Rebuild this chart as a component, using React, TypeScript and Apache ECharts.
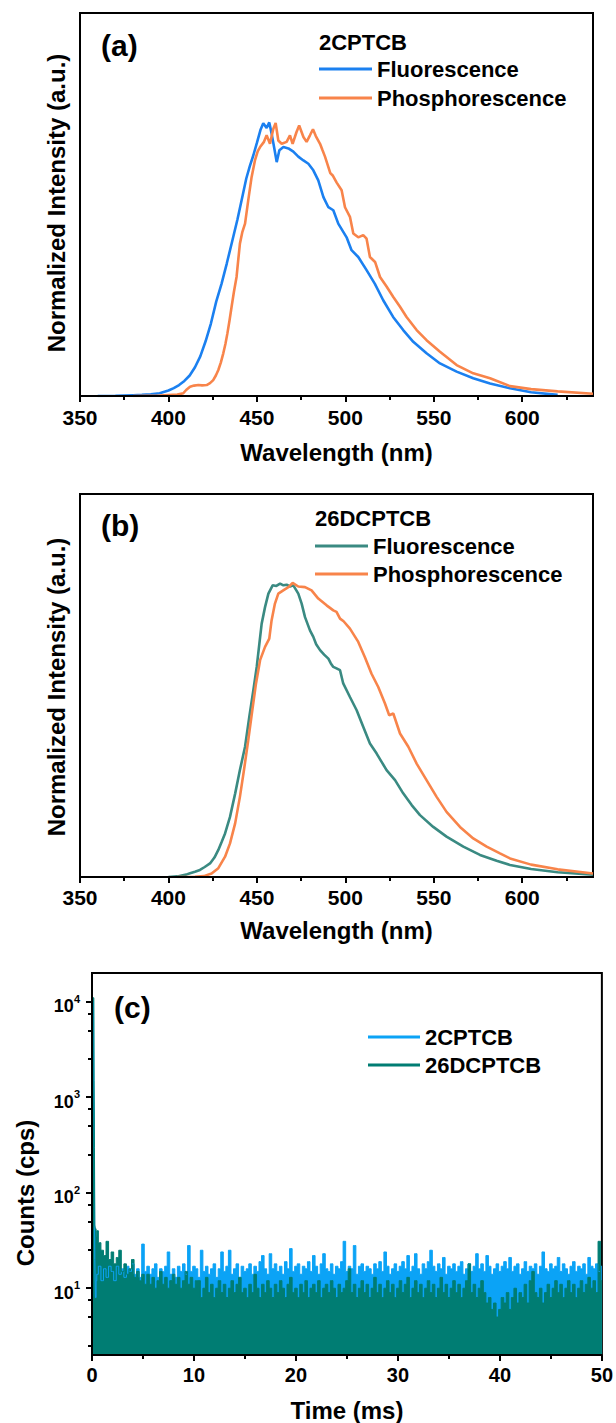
import React, { useEffect, useRef } from 'react';
import * as echarts from 'echarts';

const FONT = '"Liberation Sans", Arial, Helvetica, sans-serif';
const INK = '#000';
const BLUE_A = '#1b80f0';
const ORANGE = '#f8844a';
const TEAL_B = '#3a8a82';
const BLUE_C = '#0ba3f6';
const TEAL_C = '#007d73';

// tick values
const WL_TICKS = [350, 400, 450, 500, 550, 600];
const WL_MINOR_TICKS = [375, 425, 475, 525, 575, 625];
const TIME_TICKS = [0, 10, 20, 30, 40, 50];
const LOG_TICKS = [10, 100, 1000, 10000];
const LOG_MINOR_TICKS = [2.5, 5, 7.5, 25, 50, 75, 250, 500, 750, 2500, 5000, 7500];

// (a) 2CPTCB spectra [wavelength nm, normalized intensity]
const fluorA: [number, number][] = [
  [360, 0], [370, 0.001], [380, 0.003], [385, 0.004], [390, 0.006], [395, 0.01], [400, 0.02],
  [403, 0.029], [406, 0.04], [409, 0.055], [412, 0.075], [415, 0.105], [418, 0.145], [421, 0.2],
  [424, 0.265], [427, 0.345], [430, 0.41], [433, 0.485], [436, 0.565], [439, 0.645], [442, 0.735],
  [444, 0.795], [446, 0.84], [448, 0.88], [450, 0.925], [452, 0.972], [453.6, 0.997], [455.5, 0.98],
  [457, 1.0], [458.3, 0.96], [459.7, 0.91], [461.2, 0.855], [462.7, 0.898], [465, 0.91],
  [467.8, 0.905], [470.6, 0.893], [473.4, 0.875], [476.3, 0.861], [479.1, 0.849], [481.9, 0.825],
  [484.7, 0.788], [487.6, 0.727], [490.4, 0.69], [493.2, 0.679], [496, 0.63], [500.7, 0.58],
  [503.5, 0.533], [507.3, 0.508], [512, 0.46], [516.7, 0.41], [521.4, 0.35], [527, 0.289],
  [532.7, 0.241], [538.4, 0.198], [545.9, 0.156], [553.5, 0.119], [562.9, 0.089], [572.3, 0.065],
  [581.8, 0.046], [593.1, 0.028], [605, 0.014], [620, 0.004],
];
const phosA: [number, number][] = [
  [380, 0], [395, 0.002], [405, 0.005], [408.4, 0.01], [410, 0.022], [412.2, 0.034], [414.5, 0.038],
  [416.9, 0.04], [419, 0.039], [421.6, 0.04], [423.5, 0.047], [425.3, 0.058], [426.8, 0.075],
  [428.2, 0.095], [429.6, 0.122], [431, 0.156], [432.2, 0.19], [433.3, 0.228], [434.5, 0.275],
  [435.7, 0.326], [437, 0.38], [438.5, 0.435], [439.5, 0.5], [440.4, 0.557], [441.8, 0.6],
  [443.3, 0.63], [445.1, 0.715], [447, 0.8], [448.9, 0.861], [450.5, 0.895], [451.8, 0.91],
  [454, 0.929], [455.5, 0.953], [457.4, 0.922], [459.3, 0.977], [460.6, 0.998], [462.1, 0.934],
  [464, 0.922], [466.8, 0.929], [468.7, 0.953], [470.2, 0.922], [472.4, 0.965], [473.9, 0.989],
  [476.3, 0.947], [478.1, 0.929], [480, 0.953], [481.7, 0.975], [483.3, 0.95], [485.7, 0.922],
  [487, 0.9], [488.5, 0.875], [490, 0.845], [491.5, 0.815], [493, 0.805], [495.1, 0.78],
  [497.9, 0.752], [499.8, 0.69], [502.6, 0.655], [504.5, 0.594], [507.3, 0.58], [510.1, 0.588],
  [512, 0.575], [513.9, 0.508], [516.8, 0.49], [519.6, 0.435], [523.3, 0.4], [527.1, 0.362],
  [530.9, 0.326], [534.6, 0.289], [540.3, 0.241], [545.9, 0.204], [553.5, 0.162], [562.9, 0.113],
  [572.3, 0.083], [581.8, 0.065], [593.1, 0.036], [605, 0.025], [620, 0.017], [640, 0.008],
];

// (b) 26DCPTCB spectra
const fluorB: [number, number][] = [
  [400, 0], [405, 0.002], [410, 0.008], [412.2, 0.013], [415, 0.018], [417.8, 0.024], [420.5, 0.034],
  [423.5, 0.046], [426, 0.066], [428.2, 0.092], [430, 0.118], [432, 0.148], [434.8, 0.204],
  [437.7, 0.283], [440.4, 0.363], [443.3, 0.442], [445.7, 0.543], [448, 0.634], [449.9, 0.713],
  [451.4, 0.792], [452.7, 0.86], [454.6, 0.916], [456.5, 0.962], [458.9, 0.99], [461, 0.988],
  [463.1, 0.996], [465, 0.99], [466.8, 0.992], [468.7, 0.986], [470.6, 0.99], [473.4, 0.962],
  [475.3, 0.928], [477.2, 0.882], [480, 0.837], [481.9, 0.815], [483.5, 0.79], [485.7, 0.77],
  [488, 0.755], [490.4, 0.741], [491.8, 0.725], [493.2, 0.713], [495, 0.708], [497, 0.702],
  [498.8, 0.657], [502.6, 0.611], [506.4, 0.566], [510.1, 0.51], [513.9, 0.453], [517.7, 0.419],
  [520.5, 0.391], [523.3, 0.363], [528.1, 0.329], [532.7, 0.284], [537.5, 0.244], [542.2, 0.21],
  [549.7, 0.17], [557.2, 0.137], [566.7, 0.103], [576.1, 0.075], [585.5, 0.055], [593.1, 0.041],
  [605, 0.027], [620, 0.016], [640, 0.008],
];
const phosB: [number, number][] = [
  [405, 0], [415, 0.001], [420, 0.003], [424.4, 0.012], [428.2, 0.03], [432, 0.069], [434.8, 0.114],
  [437.7, 0.182], [440.4, 0.272], [442.7, 0.363], [445.1, 0.464], [447.4, 0.566], [449.5, 0.657],
  [451.8, 0.736], [454.6, 0.781], [457, 0.809], [458.3, 0.871], [460.2, 0.928], [462.1, 0.962],
  [464.9, 0.973], [467.8, 0.984], [470.2, 0.998], [473.4, 0.986], [477.2, 0.984], [480.9, 0.973],
  [484.7, 0.945], [489.4, 0.922], [493.2, 0.905], [495, 0.9], [497, 0.877], [499, 0.868],
  [502.6, 0.843], [507.3, 0.798], [511, 0.747], [514.8, 0.69], [518.6, 0.645], [522.4, 0.589],
  [524.8, 0.549], [527.1, 0.555], [530.9, 0.487], [535.6, 0.442], [540.3, 0.385], [545.9, 0.329],
  [551.6, 0.272], [557.2, 0.221], [564.8, 0.17], [572.3, 0.131], [579.9, 0.103], [587.4, 0.08],
  [593.1, 0.063], [605, 0.042], [620, 0.026], [640, 0.012],
];

// (c) decay curves: first points [time ms, counts], then bins from DECAY_T0 every DECAY_STEP ms
const DECAY_T0 = 0.5;
const DECAY_STEP = 0.25;
const blueDecayHead: [number, number][] = [
  [0, 10500], [0.15, 10000], [0.2, 3000], [0.25, 300], [0.3, 20], [0.36, 8], [0.44, 12],
];
const blueDecay = [
  14, 17, 12, 16, 13, 17, 15, 12, 17, 14, 16, 13, 17, 15, 18, 14, 16, 13, 29, 15,
  17, 14, 16, 18, 13, 16, 15, 17, 24, 14, 16, 13, 17, 15, 18, 14, 28, 15, 17, 16,
  13, 25, 15, 17, 14, 16, 18, 13, 16, 24, 15, 17, 25, 14, 16, 18, 13, 17, 15, 16,
  18, 14, 17, 15, 19, 22, 16, 14, 23, 16, 18, 15, 17, 14, 19, 16, 26, 15, 17, 18,
  14, 17, 16, 19, 15, 22, 17, 14, 18, 23, 16, 15, 18, 14, 17, 16, 19, 31, 15, 17,
  16, 28, 14, 17, 18, 15, 17, 16, 14, 18, 16, 19, 15, 24, 17, 14, 16, 18, 15, 17,
  19, 16, 22, 15, 17, 23, 16, 14, 18, 16, 19, 25, 17, 15, 18, 16, 21, 14, 17, 16,
  18, 15, 17, 19, 14, 16, 18, 15, 17, 23, 16, 18, 15, 22, 17, 14, 16, 18, 15, 17,
  19, 16, 21, 15, 17, 18, 14, 16, 19, 15, 17, 16, 18, 14, 17, 24, 16, 15, 18, 16,
  17, 21, 15, 18, 16, 14, 17, 19, 15, 17, 16, 18, 14, 21, 17, 16, 18, 15, 17,
];
const tealDecayHead: [number, number][] = [
  [0, 11000], [0.18, 11000], [0.22, 1500], [0.26, 300], [0.3, 46], [0.36, 42], [0.44, 35],
];
const tealDecay = [
  40, 30, 25, 22, 31, 20, 24, 18, 21, 25, 15, 18, 14, 16, 20, 13, 15, 12, 14, 11,
  14, 11, 13, 10, 12, 15, 11, 13, 10, 12, 14, 11, 13, 10, 12, 15, 11, 13, 10, 12,
  12, 8, 10, 13, 9, 11, 8, 10, 12, 9, 11, 8, 10, 12, 9, 11, 13, 9, 10, 8,
  11, 9, 14, 10, 8, 11, 9, 12, 10, 8, 11, 9, 12, 10, 8, 11, 13, 9, 10, 8,
  11, 9, 12, 8, 10, 11, 9, 12, 8, 10, 11, 9, 12, 10, 8, 11, 9, 10, 12, 16,
  9, 11, 8, 10, 12, 9, 11, 8, 10, 13, 9, 11, 8, 10, 12, 9, 11, 8, 10, 12,
  9, 11, 13, 8, 10, 12, 9, 11, 8, 10, 12, 9, 11, 8, 10, 13, 9, 11, 8, 10,
  12, 9, 11, 8, 10, 12, 18, 9, 11, 8, 10, 12, 9, 7, 8, 6, 7, 5, 6, 8,
  7, 9, 6, 8, 10, 7, 9, 8, 11, 7, 12, 15, 9, 8, 10, 7, 9, 11, 8, 10,
  12, 9, 11, 8, 10, 12, 9, 11, 8, 10, 12, 9, 11, 13, 10, 12, 9, 31, 12,
];

const toSeries = (head: [number, number][], vals: number[]) => [
  ...head,
  ...vals.map((v, i) => [DECAY_T0 + i * DECAY_STEP, v] as [number, number]),
];

const txt = (size: number) => ({ fontFamily: FONT, fontWeight: 'bold' as const, fontSize: size, color: INK });
const axisLineStyle = { color: INK, width: 2 };

function wlAxes(grid: number, nameGap: number, labelMargin: number) {
  return [
    {
      type: 'value', gridIndex: grid, min: 350, max: 640, position: 'bottom', z: 10,
      name: 'Wavelength (nm)', nameLocation: 'middle', nameGap, nameTextStyle: txt(24),
      axisLine: { show: true, onZero: false, lineStyle: axisLineStyle },
      axisTick: { show: true, customValues: WL_TICKS, length: 6, lineStyle: axisLineStyle },
      axisLabel: { show: true, customValues: WL_TICKS, margin: labelMargin, ...txt(21) },
      splitLine: { show: false },
    },
    {
      type: 'value', gridIndex: grid, min: 350, max: 640, position: 'bottom', z: 10,
      axisLine: { show: false },
      axisTick: { show: true, customValues: WL_MINOR_TICKS, length: 4, lineStyle: axisLineStyle },
      axisLabel: { show: false },
      splitLine: { show: false },
    },
  ];
}

function intensityAxis(grid: number, max: number) {
  return {
    type: 'value', gridIndex: grid, min: 0, max, z: 10,
    axisLine: { show: true, onZero: false, lineStyle: axisLineStyle },
    axisTick: { show: false }, axisLabel: { show: false }, splitLine: { show: false },
  };
}

const lineSeries = (name: string, xi: number, yi: number, data: [number, number][], color: string) => ({
  type: 'line', name, xAxisIndex: xi, yAxisIndex: yi, data, symbol: 'none', showSymbol: false,
  lineStyle: { color, width: 2.6 }, itemStyle: { color }, animation: false,
});

const decaySeries = (name: string, data: [number, number][], color: string) => ({
  type: 'line', name, xAxisIndex: 4, yAxisIndex: 2, data, symbol: 'none', showSymbol: false,
  step: 'middle',
  lineStyle: { color, width: 1 }, itemStyle: { color },
  areaStyle: { color, opacity: 1, origin: 'start' }, animation: false,
});

const legendBase = (left: number, top: number, gap: number, size: number) => ({
  orient: 'vertical', left, top, padding: 0, itemGap: gap, itemWidth: 53, itemHeight: 3,
  icon: 'rect', selectedMode: false, textStyle: txt(size),
});

const label = (text: string, x: number, y: number, size: number, rotation = 0, align = 'left') => ({
  type: 'text', x, y, rotation, z: 20,
  style: { text, fontFamily: FONT, fontWeight: 'bold', fontSize: size, fill: INK, align, verticalAlign: 'middle' },
});

function buildOption() {
  return {
    animation: false,
    backgroundColor: '#fff',
    grid: [
      { left: 80, top: 13, width: 513, height: 383, show: true, borderColor: INK, borderWidth: 2, backgroundColor: 'transparent' },
      { left: 80, top: 494, width: 513, height: 383, show: true, borderColor: INK, borderWidth: 2, backgroundColor: 'transparent' },
      { left: 92, top: 973, width: 512, height: 384, show: true, borderColor: INK, borderWidth: 2, backgroundColor: 'transparent' },
    ],
    xAxis: [
      ...wlAxes(0, 44, 11),
      ...wlAxes(1, 41, 10),
      {
        type: 'value', gridIndex: 2, min: 0, max: 50, interval: 10, position: 'bottom', z: 10,
        name: 'Time (ms)', nameLocation: 'middle', nameGap: 43, nameTextStyle: txt(24),
        axisLine: { show: true, onZero: false, lineStyle: axisLineStyle },
        axisTick: { show: true, length: 6, lineStyle: axisLineStyle },
        minorTick: { show: true, splitNumber: 2, length: 4, lineStyle: axisLineStyle },
        axisLabel: { show: true, customValues: TIME_TICKS, margin: 10, ...txt(20) },
        splitLine: { show: false },
      },
    ],
    yAxis: [
      intensityAxis(0, 1.4),
      intensityAxis(1, 1.3),
      {
        type: 'log', logBase: 10, gridIndex: 2, min: 2, max: 20000, position: 'left', z: 10,
        axisLine: { show: true, onZero: false, lineStyle: axisLineStyle },
        axisTick: { show: true, customValues: LOG_TICKS, length: 6, lineStyle: axisLineStyle },
        axisLabel: {
          show: true, customValues: LOG_TICKS, margin: 12,
          formatter: (v: number) => `{b|10}{s|${Math.round(Math.log10(v))}}`,
          rich: {
            b: { fontFamily: FONT, fontWeight: 'bold', fontSize: 18, color: INK, padding: [9, 0, 0, 0], verticalAlign: 'bottom' },
            s: { fontFamily: FONT, fontWeight: 'bold', fontSize: 11, color: INK, padding: [5, 0, 0, 0], verticalAlign: 'top' },
          },
        },
        splitLine: { show: false }, minorTick: { show: false },
      },
      {
        type: 'log', logBase: 10, gridIndex: 2, min: 2, max: 20000, position: 'left', z: 10,
        axisLine: { show: false },
        axisTick: { show: true, customValues: LOG_MINOR_TICKS, length: 4, lineStyle: axisLineStyle },
        axisLabel: { show: false }, splitLine: { show: false },
      },
    ],
    legend: [
      {
        ...legendBase(319, 58, 7, 22),
        data: [
          { name: 'Fluorescence', itemStyle: { color: BLUE_A, borderWidth: 0 } },
          { name: 'Phosphorescence', itemStyle: { color: ORANGE, borderWidth: 0 } },
        ],
      },
      {
        ...legendBase(315, 535, 6, 22),
        data: [
          { name: 'Fluorescence', itemStyle: { color: TEAL_B, borderWidth: 0 } },
          { name: 'Phosphorescence', itemStyle: { color: ORANGE, borderWidth: 0 } },
        ],
      },
      {
        ...legendBase(368, 1026, 6, 22),
        itemWidth: 52,
        data: [
          { name: '2CPTCB', itemStyle: { color: BLUE_C, borderWidth: 0 } },
          { name: '26DCPTCB', itemStyle: { color: TEAL_C, borderWidth: 0 } },
        ],
      },
    ],
    graphic: [
      label('(a)', 101, 45, 30),
      label('2CPTCB', 319, 42, 22),
      label('(b)', 101, 525, 30),
      label('26DCPTCB', 315, 518, 22),
      label('(c)', 114, 1007, 30),
      label('Normalized Intensity (a.u.)', 56, 203, 24, Math.PI / 2, 'center'),
      label('Normalized Intensity (a.u.)', 56, 687, 24, Math.PI / 2, 'center'),
      label('Counts (cps)', 25, 1193, 24, Math.PI / 2, 'center'),
    ],
    series: [
      lineSeries('Fluorescence', 0, 0, fluorA, BLUE_A),
      lineSeries('Phosphorescence', 0, 0, phosA, ORANGE),
      lineSeries('Fluorescence', 2, 1, fluorB, TEAL_B),
      lineSeries('Phosphorescence', 2, 1, phosB, ORANGE),
      decaySeries('2CPTCB', toSeries(blueDecayHead, blueDecay), BLUE_C),
      decaySeries('26DCPTCB', toSeries(tealDecayHead, tealDecay), TEAL_C),
    ],
  };
}

export default function App() {
  const ref = useRef<HTMLDivElement>(null);
  useEffect(() => {
    if (!ref.current) return;
    const chart = echarts.init(ref.current, null, { renderer: 'svg' });
    chart.setOption(buildOption() as any);
    return () => chart.dispose();
  }, []);
  return (
    <div
      ref={ref}
      style={{ position: 'absolute', left: 0, top: 0, width: 616, height: 1423, background: '#fff' }}
    />
  );
}
